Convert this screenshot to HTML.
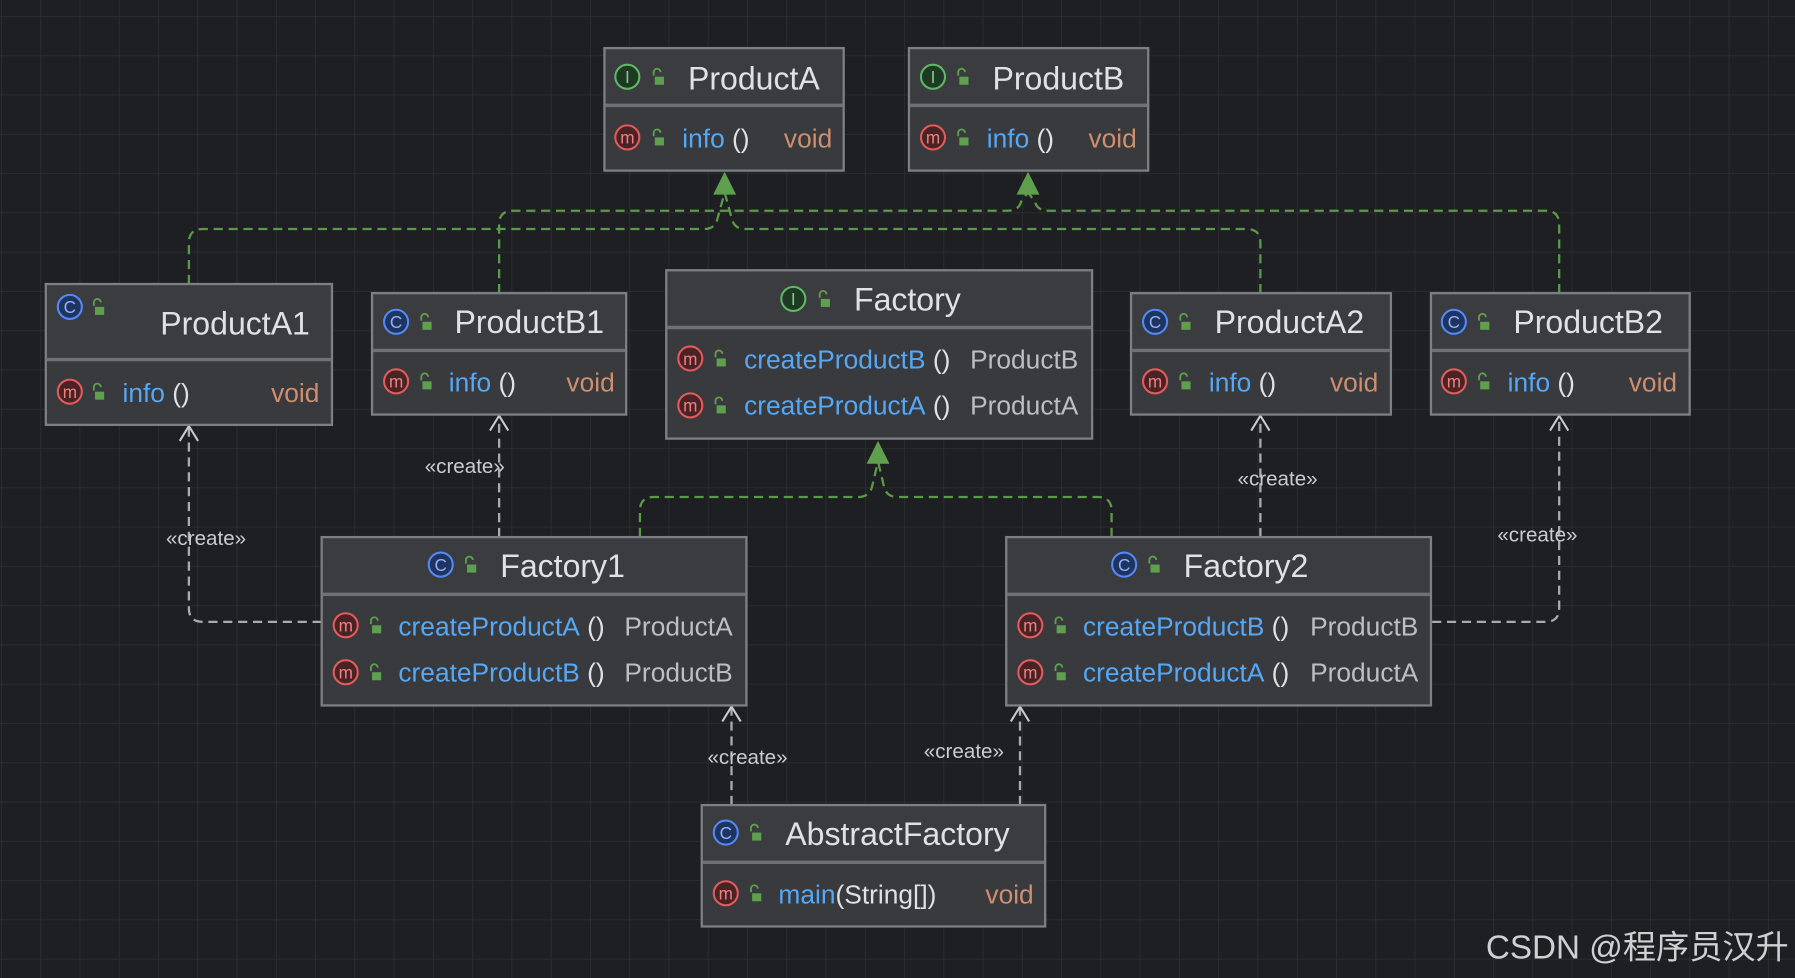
<!DOCTYPE html>
<html><head><meta charset="utf-8"><style>
html,body{margin:0;padding:0;background:#1e1f22;overflow:hidden}
svg{display:block}
text{font-family:"Liberation Sans","DejaVu Sans",sans-serif}
.t{fill:#dfe1e5;font-size:28px}
.mn{fill:#56a8f5;font-size:23px}
.p{fill:#dfe1e5;font-size:23px}
.v{fill:#cf8e6d;font-size:23px}
.r{fill:#bcbec4;font-size:23px}
.hd{fill:#3b3c3f}
.bd{fill:#383a3e}
.bx{fill:none;stroke:#7c7f84;stroke-width:2}
.sep{stroke:#6e7176;stroke-width:3}
.g{fill:none;stroke:#5b9a47;stroke-width:2;stroke-dasharray:8 5}
.c{fill:none;stroke:#a9abaf;stroke-width:2;stroke-dasharray:8 5}
.ah{fill:none;stroke:#c9cbcf;stroke-width:1.8}
.lbl{fill:#c9cbcf;font-size:18px}
</style></head><body>
<svg width="1795" height="978" viewBox="0 0 1568 854" preserveAspectRatio="none" xmlns="http://www.w3.org/2000/svg">
<defs>
<pattern id="grid" x="0.9" y="14" width="34.3" height="34.3" patternUnits="userSpaceOnUse">
<path d="M0 0 H34.3 M0 0 V34.3" stroke="#2e3034" stroke-width="1.3" fill="none"/>
</pattern>
<g id="lock"><path d="M-4 -3 V-6 A3 3 0 0 1 2 -6" fill="none" stroke="#5fa04e" stroke-width="1.6"/><rect x="-3" y="-2" width="8" height="7" fill="#5fa04e"/></g>
<g id="ic"><circle r="10.5" fill="#1f3560" stroke="#548af7" stroke-width="1.8"/><text y="5.5" text-anchor="middle" style="font-size:15px;fill:#8fb3ff">C</text></g>
<g id="ii"><circle r="10.5" fill="#1f3a24" stroke="#5fb865" stroke-width="1.8"/><text y="5.5" text-anchor="middle" style="font-size:15px;fill:#7fd080">I</text></g>
<g id="im"><circle r="10.5" fill="#4a2326" stroke="#e55b5b" stroke-width="1.8"/><text y="5.5" text-anchor="middle" style="font-size:15px;fill:#f08080">m</text></g>
</defs>
<rect width="1568" height="854" fill="#1e1f22"/>
<rect width="1568" height="854" fill="url(#grid)"/>

<path class="g" d="M165 248 V212 Q165 200 177 200 H615 Q625 200 627 190 L633 168"/>
<path class="g" d="M1101 256 V212 Q1101 200 1089 200 H651 Q641 200 639 190 L633 168"/>
<path class="g" d="M436 256 V196 Q436 184 448 184 H880 Q890 184 892 176 L898 168"/>
<path class="g" d="M1362 256 V196 Q1362 184 1350 184 H916 Q906 184 904 176 L898 168"/>
<path class="g" d="M559 469 V446 Q559 434 571 434 H750 Q760 434 762 424 L767 403"/>
<path class="g" d="M971 469 V446 Q971 434 959 434 H784 Q774 434 772 424 L767 403"/>
<polygon points="633,150 623,170 643,170" fill="#5fa04e"/>
<polygon points="898,150 888,170 908,170" fill="#5fa04e"/>
<polygon points="767,385 757,405 777,405" fill="#5fa04e"/>

<path class="c" d="M281 543 H177 Q165 543 165 531 V373"/>
<path class="ah" d="M157 385 L165 372 L173 385"/>
<path class="c" d="M436 469 V364"/>
<path class="ah" d="M428 376 L436 363 L444 376"/>
<path class="c" d="M1101 469 V364"/>
<path class="ah" d="M1093 376 L1101 363 L1109 376"/>
<path class="c" d="M1251 543 H1350 Q1362 543 1362 531 V364"/>
<path class="ah" d="M1354 376 L1362 363 L1370 376"/>
<path class="c" d="M639 703 V618"/>
<path class="ah" d="M631 630 L639 617 L647 630"/>
<path class="c" d="M891 703 V618"/>
<path class="ah" d="M883 630 L891 617 L899 630"/>
<text class="lbl" x="180" y="476" text-anchor="middle">«create»</text>
<text class="lbl" x="406" y="413" text-anchor="middle">«create»</text>
<text class="lbl" x="1116" y="424" text-anchor="middle">«create»</text>
<text class="lbl" x="1343" y="473" text-anchor="middle">«create»</text>
<text class="lbl" x="653" y="667" text-anchor="middle">«create»</text>
<text class="lbl" x="842" y="662" text-anchor="middle">«create»</text>

<rect class="hd" x="528" y="42" width="209" height="50"/><rect class="bd" x="528" y="92" width="209" height="57"/>
<line class="sep" x1="529" y1="92" x2="736" y2="92"/><rect class="bx" x="528" y="42" width="209" height="107"/>
<use href="#ii" x="548" y="67"/><use href="#lock" x="575" y="69"/>
<text class="t" x="601" y="78">ProductA</text>
<use href="#im" x="548" y="120"/><use href="#lock" x="575" y="122"/>
<text x="596" y="129"><tspan class="mn">info</tspan><tspan class="p"> ()</tspan></text><text class="v" x="727" y="129" text-anchor="end">void</text>

<rect class="hd" x="794" y="42" width="209" height="50"/><rect class="bd" x="794" y="92" width="209" height="57"/>
<line class="sep" x1="795" y1="92" x2="1002" y2="92"/><rect class="bx" x="794" y="42" width="209" height="107"/>
<use href="#ii" x="815" y="67"/><use href="#lock" x="841" y="69"/>
<text class="t" x="867" y="78">ProductB</text>
<use href="#im" x="815" y="120"/><use href="#lock" x="841" y="122"/>
<text x="862" y="129"><tspan class="mn">info</tspan><tspan class="p"> ()</tspan></text><text class="v" x="993" y="129" text-anchor="end">void</text>

<rect class="hd" x="40" y="248" width="250" height="66"/><rect class="bd" x="40" y="314" width="250" height="57"/>
<line class="sep" x1="41" y1="314" x2="289" y2="314"/><rect class="bx" x="40" y="248" width="250" height="123"/>
<use href="#ic" x="61" y="268"/><use href="#lock" x="86" y="270"/>
<text class="t" x="140" y="292">ProductA1</text>
<use href="#im" x="61" y="342"/><use href="#lock" x="86" y="344"/>
<text x="107" y="351"><tspan class="mn">info</tspan><tspan class="p"> ()</tspan></text><text class="v" x="279" y="351" text-anchor="end">void</text>

<rect class="hd" x="325" y="256" width="222" height="50"/><rect class="bd" x="325" y="306" width="222" height="56"/>
<line class="sep" x1="326" y1="306" x2="546" y2="306"/><rect class="bx" x="325" y="256" width="222" height="106"/>
<use href="#ic" x="346" y="281"/><use href="#lock" x="372" y="283"/>
<text class="t" x="397" y="291">ProductB1</text>
<use href="#im" x="346" y="333"/><use href="#lock" x="372" y="335"/>
<text x="392" y="342"><tspan class="mn">info</tspan><tspan class="p"> ()</tspan></text><text class="v" x="537" y="342" text-anchor="end">void</text>

<rect class="hd" x="582" y="236" width="372" height="50"/><rect class="bd" x="582" y="286" width="372" height="97"/>
<line class="sep" x1="583" y1="286" x2="953" y2="286"/><rect class="bx" x="582" y="236" width="372" height="147"/>
<use href="#ii" x="693" y="261"/><use href="#lock" x="720" y="263"/>
<text class="t" x="746" y="271">Factory</text>
<use href="#im" x="603" y="313"/><use href="#lock" x="629" y="315"/>
<text x="650" y="322"><tspan class="mn">createProductB</tspan><tspan class="p"> ()</tspan></text><text class="r" x="942" y="322" text-anchor="end">ProductB</text>
<use href="#im" x="603" y="354"/><use href="#lock" x="629" y="356"/>
<text x="650" y="362"><tspan class="mn">createProductA</tspan><tspan class="p"> ()</tspan></text><text class="r" x="942" y="362" text-anchor="end">ProductA</text>

<rect class="hd" x="988" y="256" width="227" height="50"/><rect class="bd" x="988" y="306" width="227" height="56"/>
<line class="sep" x1="989" y1="306" x2="1214" y2="306"/><rect class="bx" x="988" y="256" width="227" height="106"/>
<use href="#ic" x="1009" y="281"/><use href="#lock" x="1035" y="283"/>
<text class="t" x="1061" y="291">ProductA2</text>
<use href="#im" x="1009" y="333"/><use href="#lock" x="1035" y="335"/>
<text x="1056" y="342"><tspan class="mn">info</tspan><tspan class="p"> ()</tspan></text><text class="v" x="1204" y="342" text-anchor="end">void</text>

<rect class="hd" x="1250" y="256" width="226" height="50"/><rect class="bd" x="1250" y="306" width="226" height="56"/>
<line class="sep" x1="1251" y1="306" x2="1475" y2="306"/><rect class="bx" x="1250" y="256" width="226" height="106"/>
<use href="#ic" x="1270" y="281"/><use href="#lock" x="1296" y="283"/>
<text class="t" x="1322" y="291">ProductB2</text>
<use href="#im" x="1270" y="333"/><use href="#lock" x="1296" y="335"/>
<text x="1317" y="342"><tspan class="mn">info</tspan><tspan class="p"> ()</tspan></text><text class="v" x="1465" y="342" text-anchor="end">void</text>

<rect class="hd" x="281" y="469" width="371" height="50"/><rect class="bd" x="281" y="519" width="371" height="97"/>
<line class="sep" x1="282" y1="519" x2="651" y2="519"/><rect class="bx" x="281" y="469" width="371" height="147"/>
<use href="#ic" x="385" y="493"/><use href="#lock" x="411" y="495"/>
<text class="t" x="437" y="504">Factory1</text>
<use href="#im" x="302" y="546"/><use href="#lock" x="328" y="548"/>
<text x="348" y="555"><tspan class="mn">createProductA</tspan><tspan class="p"> ()</tspan></text><text class="r" x="640" y="555" text-anchor="end">ProductA</text>
<use href="#im" x="302" y="587"/><use href="#lock" x="328" y="589"/>
<text x="348" y="595"><tspan class="mn">createProductB</tspan><tspan class="p"> ()</tspan></text><text class="r" x="640" y="595" text-anchor="end">ProductB</text>

<rect class="hd" x="879" y="469" width="371" height="50"/><rect class="bd" x="879" y="519" width="371" height="97"/>
<line class="sep" x1="880" y1="519" x2="1249" y2="519"/><rect class="bx" x="879" y="469" width="371" height="147"/>
<use href="#ic" x="982" y="493"/><use href="#lock" x="1008" y="495"/>
<text class="t" x="1034" y="504">Factory2</text>
<use href="#im" x="900" y="546"/><use href="#lock" x="926" y="548"/>
<text x="946" y="555"><tspan class="mn">createProductB</tspan><tspan class="p"> ()</tspan></text><text class="r" x="1239" y="555" text-anchor="end">ProductB</text>
<use href="#im" x="900" y="587"/><use href="#lock" x="926" y="589"/>
<text x="946" y="595"><tspan class="mn">createProductA</tspan><tspan class="p"> ()</tspan></text><text class="r" x="1239" y="595" text-anchor="end">ProductA</text>

<rect class="hd" x="613" y="703" width="300" height="50"/><rect class="bd" x="613" y="753" width="300" height="56"/>
<line class="sep" x1="614" y1="753" x2="912" y2="753"/><rect class="bx" x="613" y="703" width="300" height="106"/>
<use href="#ic" x="634" y="727"/><use href="#lock" x="660" y="729"/>
<text class="t" x="686" y="738">AbstractFactory</text>
<use href="#im" x="634" y="780"/><use href="#lock" x="660" y="782"/>
<text x="680" y="789"><tspan class="mn">main</tspan><tspan class="p">(String[])</tspan></text><text class="v" x="903" y="789" text-anchor="end">void</text>

<text x="1298" y="837" style="font-family:'Liberation Sans','Noto Sans CJK SC',sans-serif;font-size:29px;fill:#cfd0d2">CSDN @程序员汉升</text>
</svg>
</body></html>
